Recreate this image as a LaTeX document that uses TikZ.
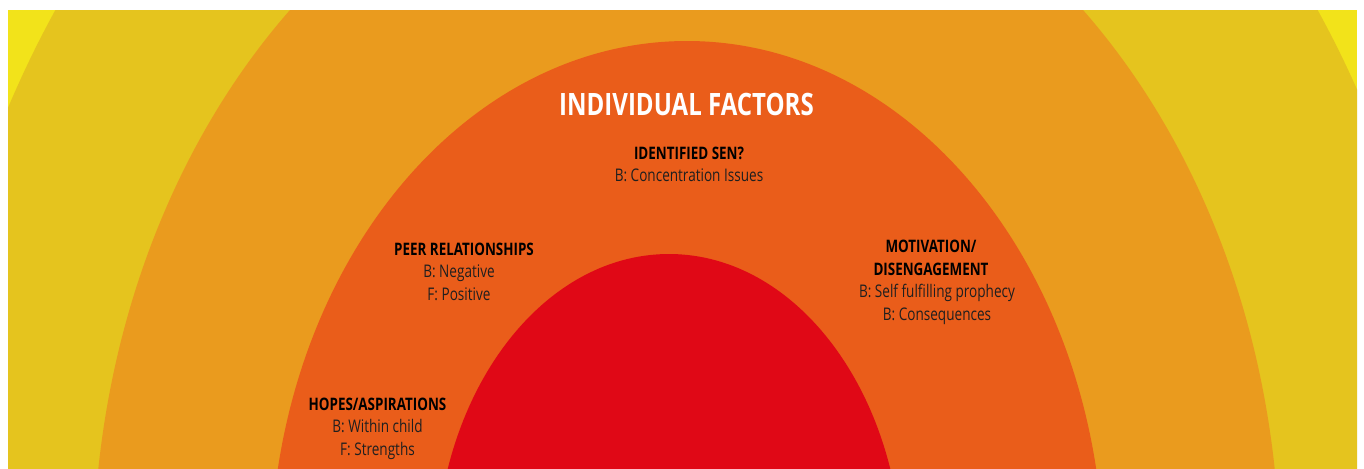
\documentclass[tikz,border=0pt]{standalone}
\usepackage{fontspec}
\newfontfamily\factorfont{Open Sans}[FakeStretch=0.78]
\definecolor{sunyellow}{HTML}{F2E31A}
\definecolor{ringyellow}{HTML}{E5C41E}
\definecolor{ringorange}{HTML}{EA9B1E}
\definecolor{ringember}{HTML}{EA5D1A}
\definecolor{corered}{HTML}{E00816}

\begin{document}
\begin{tikzpicture}[x=0.5pt, y=0.5pt,
		title/.style={font=\factorfont\bfseries\fontsize{15.4}{18}\selectfont, text=white, anchor=base, inner sep=0pt},
		head/.style={font=\factorfont\bfseries\fontsize{8.6}{11}\selectfont, text=black, anchor=base, inner sep=0pt},
		body/.style={font=\factorfont\fontsize{8.7}{11}\selectfont, text=black!88, anchor=base, inner sep=0pt}]
		\def\cx{686.5};
		\def\cy{-102};
		\def\lh{11.3pt};

		\useasboundingbox (0,0) rectangle (1364,468);
		\fill[white] (0,0) rectangle (1364,468);

		% rings
		\begin{scope}
			\clip (8,0) rectangle (1357,458);
			\fill[sunyellow] (8,0) rectangle (1357,458);
			\fill[ringyellow] (\cx,\cy) ellipse [x radius=769.7, y radius=978];
			\fill[ringorange] (\cx,\cy) ellipse [x radius=593.5, y radius=752.6];
			\fill[ringember] (687,\cy) ellipse [x radius=416.8, y radius=529];
			\fill[corered] (669,\cy) ellipse [x radius=233.5, y radius=316];
		\end{scope}

		\node[title] (title) at (\cx,353) {INDIVIDUAL FACTORS};

		\node[head] (sen) at (689,309) {IDENTIFIED SEN?};
		\node[body] (senB) at ([yshift=-\lh]sen.base) {B: Concentration Issues};

		\node[head] (peer) at (464,213) {PEER RELATIONSHIPS};
		\node[body] (peerB) at ([xshift=-2.5pt, yshift=-\lh]peer.base) {B: Negative};
		\node[body] (peerF) at ([yshift=-\lh]peerB.base) {F: Positive};

		\node[head] (motiv) at (931,215.3) {MOTIVATION/};
		\node[head] (diseng) at ([yshift=-\lh]motiv.base) {DISENGAGEMENT};
		\node[body] (motivB) at ([xshift=3pt, yshift=-\lh]diseng.base) {B: Self fulfilling prophecy};
		\node[body] (motivC) at ([yshift=-\lh]motivB.base) {B: Consequences};

		\node[head] (hopes) at (377.5,58) {HOPES/ASPIRATIONS};
		\node[body] (hopesB) at ([yshift=-\lh]hopes.base) {B: Within child};
		\node[body] (hopesF) at ([yshift=-\lh]hopesB.base) {F: Strengths};
	\end{tikzpicture}
\end{document}
